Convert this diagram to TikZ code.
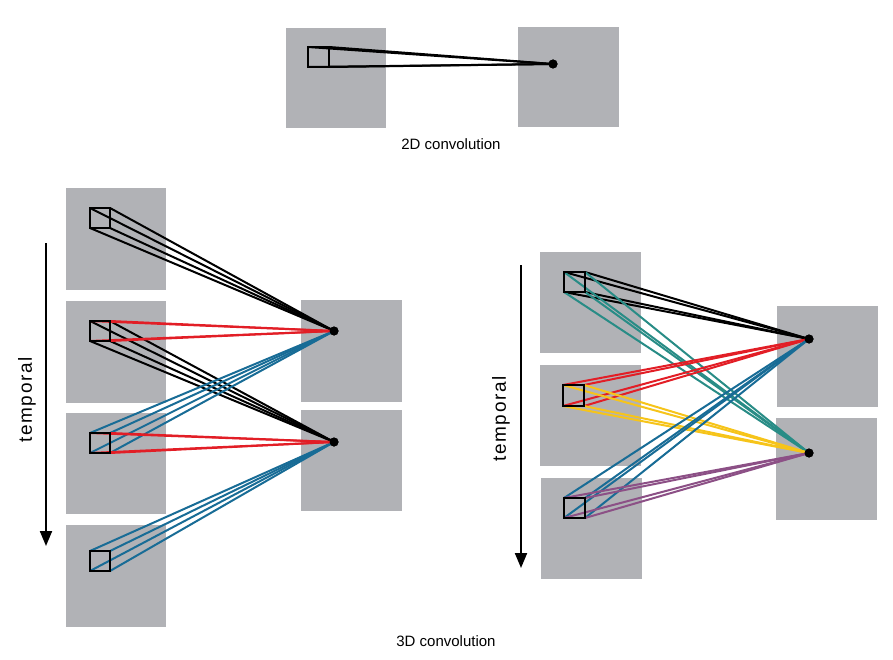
\documentclass[tikz,border=0pt]{standalone}
\usepackage{fontspec}
\setmainfont{Liberation Sans}
\newfontfamily\spacedfont[LetterSpace=9]{Liberation Sans}
\usetikzlibrary{arrows.meta}
\definecolor{framegray}{RGB}{177,178,182}
\definecolor{cred}{RGB}{226,30,38}
\definecolor{cblue}{RGB}{24,108,150}
\definecolor{cteal}{RGB}{40,140,134}
\definecolor{cyellow}{RGB}{246,196,26}
\definecolor{cpurple}{RGB}{140,80,134}
\tikzset{
  frame/.style={fill=framegray, draw=none, inner sep=0, outer sep=0, anchor=north west},
  kern/.style={draw=black, line width=2pt, inner sep=0, outer sep=0, anchor=north west, minimum size=#1},
  kern/.default=20,
  dotnode/.style={circle, fill=black, inner sep=0, minimum size=9},
  ray/.style={line width=2pt, draw=#1},
  timearrow/.style={line width=2pt, -{Triangle[length=15,width=12]}},
  caption/.style={font=\fontsize{15}{17}\selectfont, inner sep=0},
  timelabel/.style={font=\spacedfont\fontsize{19}{22}\selectfont, rotate=90, inner sep=0}
}
\newcommand\prism[3]{\foreach \cc in {north west,north east,south west,south east} \draw[ray=#3] (#1.\cc) -- (#2.center);}
\begin{document}
\begin{tikzpicture}[x=1pt,y=-1pt]
\path[use as bounding box] (0,0) rectangle (893,660);

% ---- 2D convolution ----
\node[frame, minimum width=100, minimum height=100] (tf1) at (286,28) {};
\node[frame, minimum width=101, minimum height=100] (tf2) at (518,27) {};
\node[dotnode] (tp) at (553,64) {};
\node[kern=21, minimum height=20] (tk) at (308,47) {};
\prism{tk}{tp}{black}
\node[kern=21, minimum height=20] at (308,47) {};
\node[dotnode] at (553,64) {};
\node[caption] (t2d) at (451,144) {2D convolution};

% ---- 3D convolution, left ----
\node[frame, minimum width=100, minimum height=102] (lf1) at (66,188) {};
\node[frame, minimum width=100, minimum height=102] (lf2) at (66,301) {};
\node[frame, minimum width=100, minimum height=101] (lf3) at (66,413) {};
\node[frame, minimum width=100, minimum height=102] (lf4) at (66,525) {};
\node[frame, minimum width=101, minimum height=102] (lo1) at (301,300) {};
\node[frame, minimum width=101, minimum height=101] (lo2) at (301,410) {};
\node[dotnode] (lp1) at (334,331) {};
\node[dotnode] (lp2) at (334,442) {};
\node[kern] (lk1) at (90,208) {};
\node[kern] (lk2) at (90,321) {};
\node[kern] (lk3) at (90,433) {};
\node[kern] (lk4) at (90,551) {};
\prism{lk1}{lp1}{black}
\prism{lk2}{lp2}{black}
\prism{lk3}{lp1}{cblue}
\prism{lk4}{lp2}{cblue}
\prism{lk2}{lp1}{cred}
\prism{lk3}{lp2}{cred}
\node[kern] at (90,208) {};
\node[kern] at (90,321) {};
\node[kern] at (90,433) {};
\node[kern] at (90,551) {};
\node[dotnode] at (334,331) {};
\node[dotnode] at (334,442) {};
\coordinate (la1) at (46,243);
\coordinate (la2) at (46,546);
\draw[timearrow] (la1) -- (la2);
\node[timelabel] (lt) at (27,400) {temporal};

% ---- 3D convolution, right ----
\node[frame, minimum width=101, minimum height=101] (rf1) at (540,252) {};
\node[frame, minimum width=101, minimum height=101] (rf2) at (540,365) {};
\node[frame, minimum width=101, minimum height=101] (rf3) at (541,478) {};
\node[frame, minimum width=101, minimum height=101] (ro1) at (777,306) {};
\node[frame, minimum width=101, minimum height=102] (ro2) at (776,418) {};
\node[dotnode] (rp1) at (809,339) {};
\node[dotnode] (rp2) at (809,453) {};
\node[kern=21, minimum height=20] (rk1) at (564,272) {};
\node[kern=21] (rk2) at (563,385) {};
\node[kern=21, minimum height=20] (rk3) at (564,498) {};
\prism{rk1}{rp1}{black}
\prism{rk1}{rp2}{cteal}
\prism{rk2}{rp1}{cred}
\prism{rk2}{rp2}{cyellow}
\prism{rk3}{rp1}{cblue}
\prism{rk3}{rp2}{cpurple}
\node[kern=21, minimum height=20] at (564,272) {};
\node[kern=21] at (563,385) {};
\node[kern=21, minimum height=20] at (564,498) {};
\node[dotnode] at (809,339) {};
\node[dotnode] at (809,453) {};
\coordinate (ra1) at (521,265);
\coordinate (ra2) at (521,568);
\draw[timearrow] (ra1) -- (ra2);
\node[timelabel] (rt) at (501,419) {temporal};

\node[caption] (t3d) at (446,641) {3D convolution};
\end{tikzpicture}
\end{document}
